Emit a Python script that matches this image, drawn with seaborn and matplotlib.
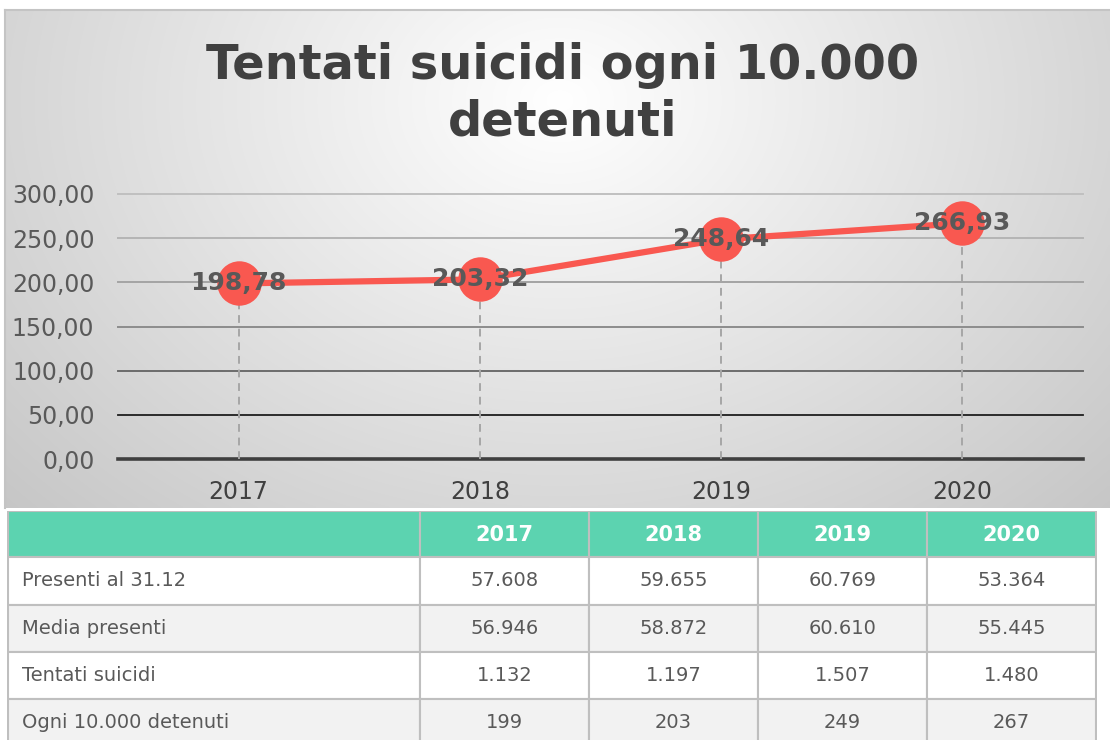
import numpy as np
import pandas as pd
import matplotlib.pyplot as plt
import seaborn as sns
from matplotlib.patches import Rectangle
from matplotlib.ticker import FuncFormatter

# data
years = ['2017', '2018', '2019', '2020']
rate = [198.78, 203.32, 248.64, 266.93]
row_labels = ['Presenti al 31.12', 'Media presenti', 'Tentati suicidi', 'Ogni 10.000 detenuti']
presenti = [57608, 59655, 60769, 53364]
media = [56946, 58872, 60610, 55445]
tentati = [1132, 1197, 1507, 1480]
ogni = [199, 203, 249, 267]

W, H = 1110, 740
fig = plt.figure(figsize=(W / 100, H / 100), dpi=100)
fig.patch.set_facecolor('white')

def box(x0, y0, x1, y1):
    # pixel box -> figure fraction rect
    return [x0 / W, 1 - y1 / H, (x1 - x0) / W, (y1 - y0) / H]

# background panel with radial gradient
bg = fig.add_axes(box(5, 10, 1110, 508))
gx, gy = np.meshgrid(np.linspace(5, 1110, 400), np.linspace(10, 508, 200))
d = np.sqrt(((gx - 560) / 620) ** 2 + ((gy - 100) / 480) ** 2)
shade = np.clip(1 - 0.18 * d, 0.77, 1)
bg.imshow(np.dstack([shade] * 3), aspect='auto', extent=[0, 1, 0, 1], interpolation='bilinear')
bg.set_xticks([])
bg.set_yticks([])
for s in ['right', 'bottom']:
    bg.spines[s].set_visible(False)
for s in ['top', 'left']:
    bg.spines[s].set_color('#c4c4c4')
    bg.spines[s].set_linewidth(1.5)

fig.text(563 / W, 1 - 94 / H, 'Tentati suicidi ogni 10.000\ndetenuti', ha='center', va='center',
         fontsize=34.5, fontweight='bold', color='#404040', linespacing=1.25)

# chart
ax = fig.add_axes(box(118, 194, 1083, 459))
ax.patch.set_alpha(0)
df = pd.DataFrame({'pos': range(len(years)), 'rate': rate})

grid_cols = ['#3f3f3f', '#1e1e1e', '#6c6c6c', '#8c8c8c', '#a4a4a4', '#b4b4b4', '#c0c0c0']
grid_lw = [2.6, 1.3, 1.4, 1.4, 1.4, 1.4, 1.4]
for v, c, lw in zip(range(0, 301, 50), grid_cols, grid_lw):
    ax.axhline(v, color=c, lw=lw, zorder=1, clip_on=False)

ax.vlines(df['pos'], 0, df['rate'], colors='#a6a6a6', linestyles=(0, (4, 3)), lw=1.4, zorder=2)
sns.lineplot(data=df, x='pos', y='rate', ax=ax, color='#f95850', linewidth=4.5,
             marker='o', markersize=32, markeredgewidth=0, zorder=3, clip_on=False)
for x, y in zip(df['pos'], df['rate']):
    ax.text(x, y, f'{y:.2f}'.replace('.', ','), ha='center', va='center', fontsize=18,
            fontweight='bold', color='#595959', zorder=4)

ax.set_xlim(-0.5, len(years) - 0.5)
ax.set_ylim(0, 300)
ax.set_xticks(range(len(years)))
ax.set_xticklabels(years)
ax.set_yticks(range(0, 301, 50))
ax.yaxis.set_major_formatter(FuncFormatter(lambda v, p: f'{v:.2f}'.replace('.', ',')))
ax.tick_params(axis='y', length=0, pad=17, labelsize=17, labelcolor='#595959')
ax.tick_params(axis='x', length=0, pad=15, labelsize=17, labelcolor='#404040')
ax.set_xlabel('')
ax.set_ylabel('')
for s in ax.spines.values():
    s.set_visible(False)

# table
tx = fig.add_axes(box(7, 511, 1097, 746))
tx.set_xlim(7, 1097)
tx.set_ylim(746, 511)
tx.axis('off')
col_edges = [8, 420, 589, 758, 927, 1096]
row_edges = [511, 557, 605, 652, 699, 746]
rows = [presenti, media, tentati, ogni]

def fmt(n):
    return f'{n:,}'.replace(',', '.')

for j in range(len(col_edges) - 1):
    tx.add_patch(Rectangle((col_edges[j], row_edges[0]), col_edges[j + 1] - col_edges[j],
                           row_edges[1] - row_edges[0], facecolor='#5cd3b0', edgecolor='#bfbfbf', lw=1.5))
    if j > 0:
        tx.text((col_edges[j] + col_edges[j + 1]) / 2, (row_edges[0] + row_edges[1]) / 2 + 1,
                years[j - 1], ha='center', va='center', fontsize=15, fontweight='bold', color='white')

for i, (lab, vals) in enumerate(zip(row_labels, rows)):
    y0, y1 = row_edges[i + 1], row_edges[i + 2]
    fc = 'white' if i % 2 == 0 else '#f2f2f2'
    for j in range(len(col_edges) - 1):
        tx.add_patch(Rectangle((col_edges[j], y0), col_edges[j + 1] - col_edges[j], y1 - y0,
                               facecolor=fc, edgecolor='#bfbfbf', lw=1.5))
    tx.text(22, (y0 + y1) / 2, lab, ha='left', va='center', fontsize=14, color='#595959')
    for j, v in enumerate(vals):
        tx.text((col_edges[j + 1] + col_edges[j + 2]) / 2, (y0 + y1) / 2, fmt(v),
                ha='center', va='center', fontsize=14, color='#595959')

fig.savefig('out.png', dpi=100)
